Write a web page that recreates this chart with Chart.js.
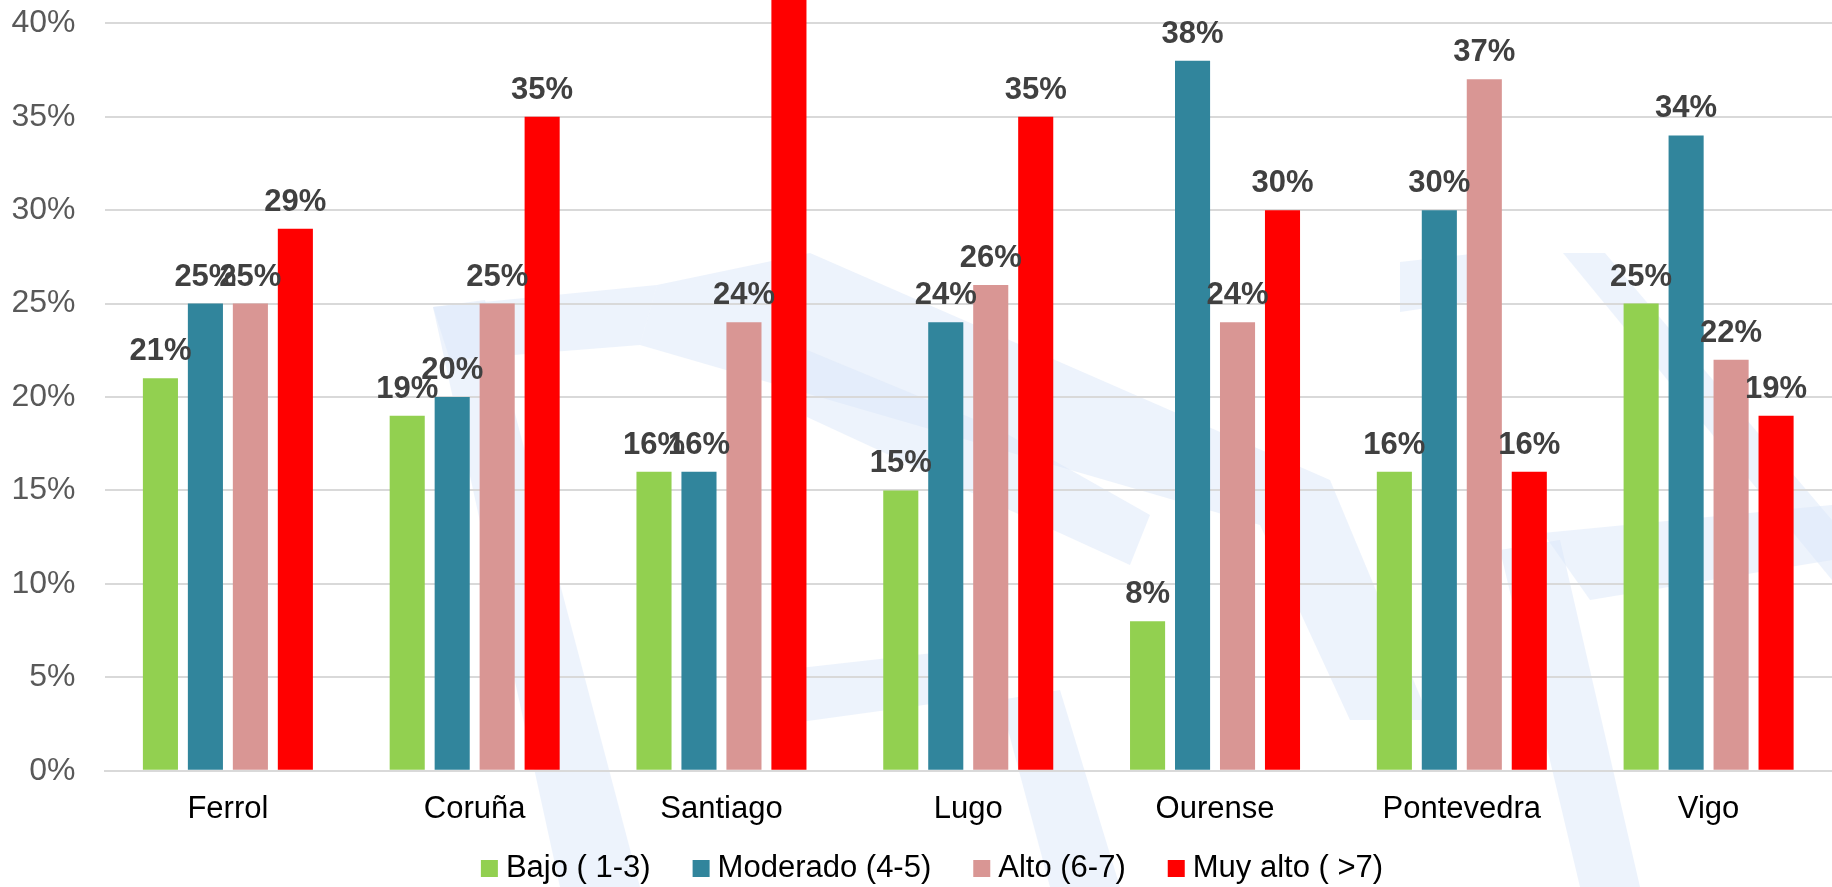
<!DOCTYPE html>
<html>
<head>
<meta charset="utf-8">
<script src="https://cdn.jsdelivr.net/npm/chart.js@4/dist/chart.umd.min.js"></script>
<style>
  html, body { margin: 0; padding: 0; background: #ffffff; }
  #wrap { width: 1832px; height: 887px; }
</style>
</head>
<body>
<div id="wrap"><canvas id="c" width="1832" height="887"></canvas></div>
<script>
const categories = ['Ferrol', 'Coruña', 'Santiago', 'Lugo', 'Ourense', 'Pontevedra', 'Vigo'];
const bajo     = [21, 19, 16, 15, 8, 16, 25];
const moderado = [25, 20, 16, 24, 38, 30, 34];
const alto     = [25, 25, 24, 26, 24, 37, 22];
const muyAlto  = [29, 35, 44, 35, 30, 16, 19];
const seriesNames = ['Bajo ( 1-3)', 'Moderado (4-5)', 'Alto (6-7)', 'Muy alto ( >7)'];
const seriesColors = ['#92D050', '#31859C', '#D99694', '#FF0000'];
const yTickValues = [0, 5, 10, 15, 20, 25, 30, 35, 40];

const FONT = "'Liberation Sans', Arial, sans-serif";

// light watermark drawn behind the plot
const watermarkPlugin = {
  id: 'watermark',
  beforeDraw(chart) {
    const ctx = chart.ctx;
    ctx.save();
    ctx.fillStyle = '#ffffff';
    ctx.fillRect(0, 0, chart.width, chart.height);
    ctx.fillStyle = 'rgba(220,232,250,0.5)';
    const polys = [
      [[433,307],[485,300],[640,887],[560,887]],
      [[433,307],[657,285],[640,345],[450,360]],
      [[657,285],[810,253],[1330,480],[1430,720],[1350,720],[1260,525],[640,345]],
      [[807,350],[1000,430],[1150,515],[1130,565],[900,460],[807,417]],
      [[800,668],[960,650],[960,700],[800,722]],
      [[1000,700],[1060,690],[1120,887],[1050,887]],
      [[1400,262],[1480,253],[1480,300],[1400,312]],
      [[1563,253],[1605,253],[1832,520],[1832,580]],
      [[1543,533],[1832,505],[1832,560],[1590,600]],
      [[1500,550],[1560,540],[1640,887],[1580,887]]
    ];
    polys.forEach(p => {
      ctx.beginPath();
      ctx.moveTo(p[0][0], p[0][1]);
      for (let i = 1; i < p.length; i++) ctx.lineTo(p[i][0], p[i][1]);
      ctx.closePath();
      ctx.fill();
    });
    ctx.restore();
  }
};

// value labels above bars
const valueLabelPlugin = {
  id: 'valueLabels',
  afterDatasetsDraw(chart) {
    const ctx = chart.ctx;
    ctx.save();
    ctx.font = "bold 31px " + FONT;
    ctx.fillStyle = '#404040';
    ctx.textAlign = 'center';
    ctx.textBaseline = 'alphabetic';
    chart.data.datasets.forEach((ds, di) => {
      const meta = chart.getDatasetMeta(di);
      meta.data.forEach((bar, i) => {
        const y = bar.y - 18;
        if (y < 0) return;
        ctx.fillText(ds.data[i] + '%', bar.x, y);
      });
    });
    ctx.restore();
  }
};

// legend drawn at the bottom
const legendPlugin = {
  id: 'customLegend',
  afterDraw(chart) {
    const ctx = chart.ctx;
    ctx.save();
    ctx.font = "31px " + FONT;
    const boxW = 17, boxH = 17, boxGap = 8, itemGap = 42;
    const widths = seriesNames.map(n => ctx.measureText(n).width);
    let total = 0;
    widths.forEach((w, i) => { total += boxW + boxGap + w + (i < widths.length - 1 ? itemGap : 0); });
    let x = 932 - total / 2;
    const baseline = 877;
    seriesNames.forEach((n, i) => {
      ctx.fillStyle = seriesColors[i];
      ctx.fillRect(x, baseline - boxH, boxW, boxH);
      x += boxW + boxGap;
      ctx.fillStyle = '#000000';
      ctx.textAlign = 'left';
      ctx.textBaseline = 'alphabetic';
      ctx.fillText(n, x, baseline);
      x += widths[i] + itemGap;
    });
    ctx.restore();
  }
};

const seriesData = [bajo, moderado, alto, muyAlto];
const datasets = seriesNames.map((name, i) => ({
  label: name,
  data: seriesData[i],
  backgroundColor: seriesColors[i],
  borderWidth: 0,
  categoryPercentage: 0.729,
  barPercentage: 0.78,
  clip: false
}));

new Chart(document.getElementById('c'), {
  type: 'bar',
  data: { labels: categories, datasets: datasets },
  options: {
    responsive: false,
    animation: false,
    devicePixelRatio: 1,
    layout: { padding: { top: 23.3, left: 0, right: 0, bottom: 39 } },
    plugins: {
      legend: { display: false },
      tooltip: { enabled: false }
    },
    scales: {
      x: {
        grid: { display: false, drawTicks: false },
        border: { display: true, color: '#d9d9d9', width: 2 },
        ticks: { color: '#000000', font: { family: FONT, size: 31 }, padding: 20, maxRotation: 0 },
        afterFit(scale) { scale.paddingLeft = 0; scale.paddingRight = 0; }
      },
      y: {
        min: 0,
        max: 40,
        afterBuildTicks(scale) { scale.ticks = yTickValues.map(v => ({ value: v })); },
        afterFit(scale) { scale.width = 104.5; scale.paddingTop = 0; scale.paddingBottom = 0; },
        grid: { color: '#d9d9d9', lineWidth: 2, drawTicks: false },
        border: { display: false },
        ticks: {
          color: '#595959',
          font: { family: FONT, size: 32 },
          padding: 29,
          callback: v => v + '%'
        }
      }
    }
  },
  plugins: [watermarkPlugin, valueLabelPlugin, legendPlugin]
});
</script>
</body>
</html>
